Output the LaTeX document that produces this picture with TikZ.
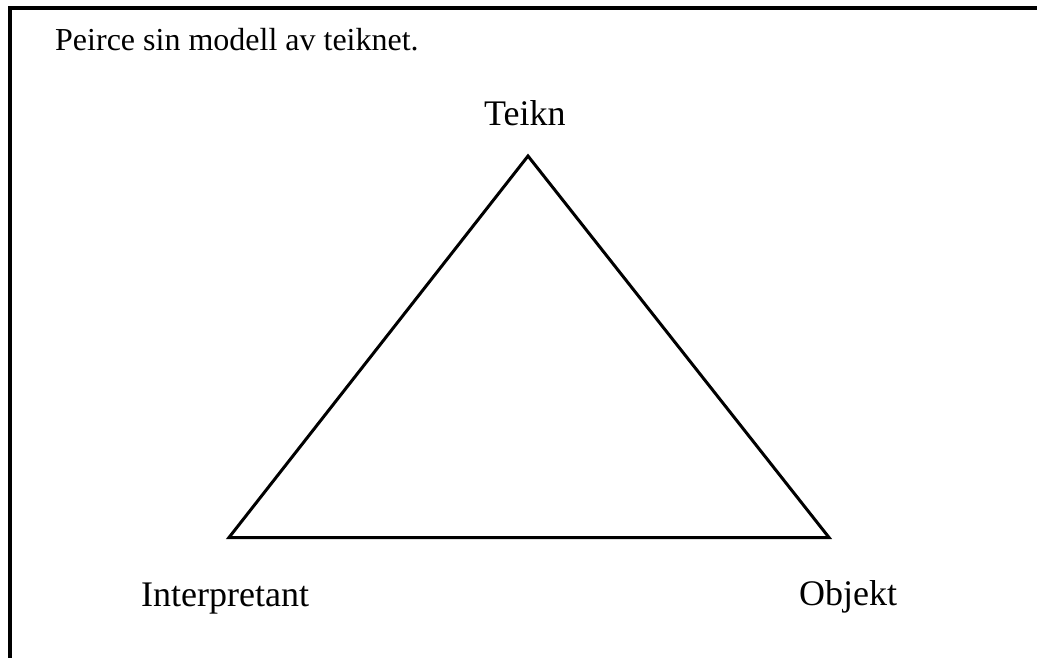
\documentclass[tikz,border=0pt]{standalone}
\usepackage{fontspec}
\setmainfont{Liberation Serif}
\begin{document}
\begin{tikzpicture}[x=1pt,y=-1pt,
  lbl/.style={inner sep=0pt,anchor=base west,font=\fontsize{36}{42}\selectfont},
  ttl/.style={inner sep=0pt,anchor=base west,font=\fontsize{32}{38}\selectfont},
  tri/.style={line width=3pt,line join=miter}]
\useasboundingbox (0,0) rectangle (1037,658);
\draw[line width=4pt] (10,658) -- (10,8) -- (1037,8);
\node[ttl] (title) at (55,51) {Peirce sin modell av teiknet.};
\coordinate (T) at (528,156);
\coordinate (I) at (229,537.5);
\coordinate (O) at (829,537.5);
\draw[tri] (T) -- (O) -- (I) -- cycle;
\node[lbl] (teikn) at (484,126) {Teikn};
\node[lbl] (interp) at (141,606) {Interpretant};
\node[lbl] (objekt) at (799,605) {Objekt};
\end{tikzpicture}
\end{document}
